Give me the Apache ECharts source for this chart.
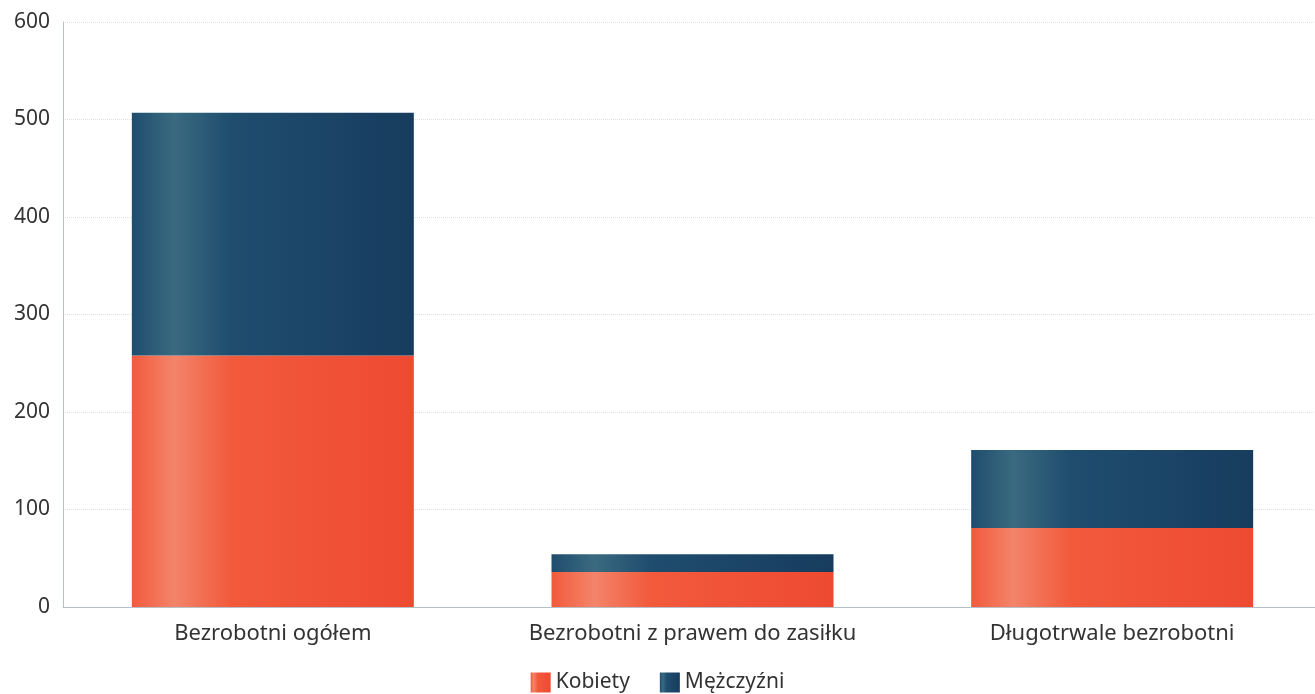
<!DOCTYPE html>
<html><head><meta charset="utf-8">
<script src="https://cdn.jsdelivr.net/npm/echarts@6/dist/echarts.min.js"></script>
<style>html,body{margin:0;padding:0;background:#fff}#c{width:1315px;height:694px}</style>
</head><body><div id="c"></div>
<script>
const categories = ['Bezrobotni ogółem', 'Bezrobotni z prawem do zasiłku', 'Długotrwale bezrobotni'];
const kobiety = [258, 36, 81];
const mezczyzni = [249, 18, 80];
const yTicks = [0, 100, 200, 300, 400, 500, 600];

function grad(c1, c2, c3) {
  return new echarts.graphic.LinearGradient(0, 0, 1, 0, [
    {offset: 0, color: c1}, {offset: 0.15, color: c2}, {offset: 0.35, color: c1}, {offset: 1, color: c3}
  ]);
}
const chart = echarts.init(document.getElementById('c'));
chart.setOption({
  animation: false,
  textStyle: {fontFamily: 'Noto Sans'},
  grid: {left: 63, width: 1259, top: 22, bottom: 87, outerBoundsMode: 'none', containLabel: false},
  legend: {
    top: 667, left: 'center', itemWidth: 20, itemHeight: 20, itemGap: 30,
    icon: 'rect',
    textStyle: {fontSize: 21, color: '#333', fontFamily: 'Noto Sans'},
    data: ['Kobiety', 'Mężczyźni']
  },
  xAxis: {
    type: 'category', data: categories,
    axisLine: {lineStyle: {color: '#b8bfc6'}}, axisTick: {show: false},
    axisLabel: {fontSize: 22, color: '#333', margin: 16, interval: 0, hideOverlap: false}
  },
  yAxis: {
    type: 'value', min: yTicks[0], max: yTicks[yTicks.length - 1], interval: 100,
    axisLine: {show: true, lineStyle: {color: '#b8bfc6'}},
    axisLabel: {fontSize: 21, color: '#333', margin: 13},
    splitLine: {lineStyle: {color: '#dde0e3', type: 'dotted'}}
  },
  series: [
    {name: 'Kobiety', type: 'bar', stack: 'a', data: kobiety, barWidth: 282,
     itemStyle: {color: grad('#f25a3c', '#f3846a', '#ee4a32')}},
    {name: 'Mężczyźni', type: 'bar', stack: 'a', data: mezczyzni, barWidth: 282,
     itemStyle: {color: grad('#1f4d6e', '#3a6a80', '#173c5e')}}
  ]
});
</script></body></html>
